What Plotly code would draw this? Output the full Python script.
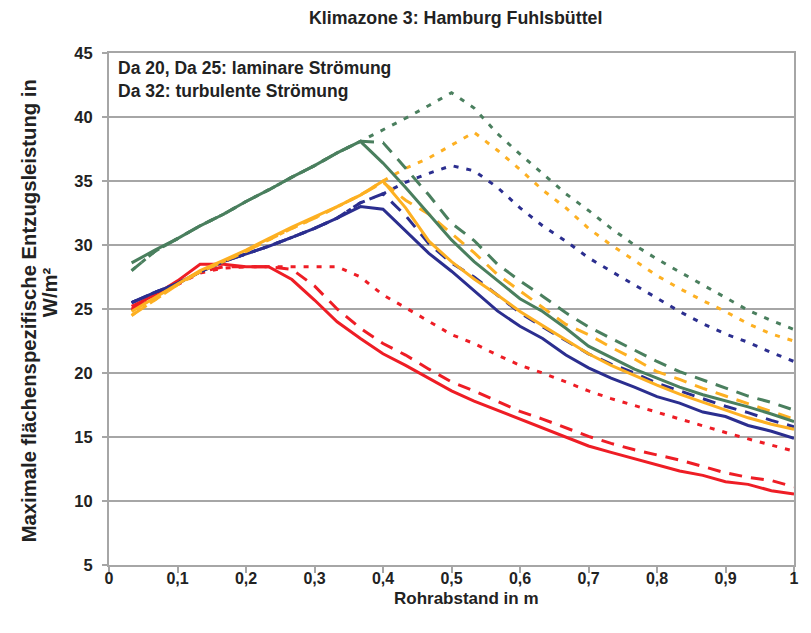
import plotly.graph_objects as go

# Rohrabstand in m
rohrabstand = [0.033, 0.067, 0.1, 0.133, 0.167, 0.2, 0.233, 0.267, 0.3, 0.333,
               0.367, 0.4, 0.433, 0.467, 0.5, 0.533, 0.567, 0.6, 0.633, 0.667,
               0.7, 0.733, 0.767, 0.8, 0.833, 0.867, 0.9, 0.933, 0.967, 1.0]

# Maximale flächenspezifische Entzugsleistung in W/m² (Da 20 = solid, Da 25 = dashed, Da 32 = dotted)
rot_da20 = [25.2, 26.1, 27.2, 28.5, 28.5, 28.3, 28.3, 27.3, 25.7, 24.0,
            22.7, 21.5, 20.6, 19.6, 18.6, 17.8, 17.1, 16.4, 15.7, 15.0,
            14.3, 13.8, 13.3, 12.8, 12.35, 12.0, 11.5, 11.3, 10.8, 10.55]
rot_da25 = [25.0, 26.0, 27.0, 27.9, 28.3, 28.3, 28.3, 28.1, 26.8, 25.0,
            23.5, 22.3, 21.4, 20.3, 19.3, 18.6, 17.8, 17.0, 16.4, 15.7,
            15.05, 14.5, 14.0, 13.6, 13.2, 12.7, 12.2, 11.85, 11.6, 11.1]
rot_da32 = [24.9, 25.9, 26.9, 27.8, 28.2, 28.3, 28.3, 28.3, 28.3, 28.3,
            27.5, 26.1, 25.1, 24.0, 23.0, 22.3, 21.4, 20.6, 20.0, 19.3,
            18.6, 18.0, 17.45, 16.95, 16.4, 15.85, 15.35, 14.85, 14.35, 13.9]

blau_da20 = [25.5, 26.3, 27.0, 27.9, 28.7, 29.3, 29.9, 30.6, 31.3, 32.1,
             33.0, 32.8, 31.1, 29.35, 27.95, 26.4, 24.85, 23.65, 22.7, 21.4,
             20.4, 19.6, 18.9, 18.15, 17.65, 16.95, 16.6, 15.9, 15.45, 14.9]
blau_da25 = [25.5, 26.3, 27.0, 27.9, 28.7, 29.3, 29.9, 30.6, 31.3, 32.1,
             33.3, 34.0, 32.3, 30.1, 28.6, 27.5, 26.1, 24.7, 23.6, 22.5,
             21.5, 20.7, 20.0, 19.2, 18.6, 18.0, 17.4, 16.9, 16.3, 15.8]
blau_da32 = [25.5, 26.3, 27.0, 27.9, 28.7, 29.3, 29.9, 30.6, 31.3, 32.1,
             33.3, 34.0, 34.9, 35.6, 36.2, 35.8, 34.5, 32.9, 31.5, 30.3,
             29.0, 27.95, 26.85, 25.85, 24.8, 23.85, 23.05, 22.4, 21.6, 20.9]

orange_da20 = [24.8, 25.9, 27.0, 28.0, 28.8, 29.6, 30.5, 31.4, 32.2, 33.0,
               33.9, 35.0, 32.9, 30.3, 28.7, 27.35, 26.1, 24.8, 23.7, 22.55,
               21.5, 20.6, 19.8, 19.05, 18.35, 17.7, 17.1, 16.5, 16.0, 15.6]
orange_da25 = [24.5, 25.7, 26.9, 27.9, 28.7, 29.5, 30.4, 31.3, 32.1, 33.0,
               33.9, 34.9, 33.5, 32.4, 30.9, 29.4, 27.7, 26.4, 25.1, 23.8,
               23.0, 22.0, 21.1, 20.1, 19.5, 18.8, 18.2, 17.6, 17.0, 16.4]
orange_da32 = [24.5, 25.7, 26.9, 27.9, 28.7, 29.5, 30.4, 31.3, 32.1, 33.0,
               33.9, 35.0, 36.0, 36.8, 37.8, 38.8, 37.4, 35.9, 34.3, 32.9,
               31.3, 30.0, 28.8, 27.6, 26.6, 25.65, 24.8, 23.85, 23.05, 22.5]

gruen_da20 = [28.6, 29.6, 30.5, 31.5, 32.4, 33.4, 34.3, 35.3, 36.2, 37.2,
              38.1, 36.4, 34.5, 32.4, 30.4, 28.7, 27.2, 25.8, 24.8, 23.5,
              22.1, 21.2, 20.3, 19.6, 18.9, 18.3, 17.85, 17.35, 16.8, 16.2]
gruen_da25 = [28.0, 29.5, 30.5, 31.5, 32.4, 33.4, 34.3, 35.3, 36.2, 37.2,
              38.1, 38.0, 36.0, 33.9, 31.7, 30.35, 28.5, 27.2, 26.0, 24.7,
              23.6, 22.7, 21.8, 20.9, 20.1, 19.45, 18.8, 18.2, 17.7, 17.1]
gruen_da32 = [28.0, 29.5, 30.5, 31.5, 32.4, 33.4, 34.3, 35.3, 36.2, 37.2,
              38.1, 39.0, 39.9, 40.9, 41.9, 40.7, 38.7, 37.1, 35.6, 34.0,
              32.7, 31.3, 30.0, 28.9, 27.9, 26.9, 25.9, 24.9, 24.1, 23.4]

ROT = "#EE1D25"
BLAU = "#2B2E8F"
ORANGE = "#FDB022"
GRUEN = "#4A7F5E"

DASH_DA20 = "solid"
DASH_DA25 = "13px,9px"
DASH_DA32 = "5px,8px"

series = [
    ("Rot Da 20", rot_da20, ROT, DASH_DA20),
    ("Rot Da 25", rot_da25, ROT, DASH_DA25),
    ("Rot Da 32", rot_da32, ROT, DASH_DA32),
    ("Blau Da 20", blau_da20, BLAU, DASH_DA20),
    ("Blau Da 25", blau_da25, BLAU, DASH_DA25),
    ("Blau Da 32", blau_da32, BLAU, DASH_DA32),
    ("Orange Da 20", orange_da20, ORANGE, DASH_DA20),
    ("Orange Da 25", orange_da25, ORANGE, DASH_DA25),
    ("Orange Da 32", orange_da32, ORANGE, DASH_DA32),
    ("Grün Da 20", gruen_da20, GRUEN, DASH_DA20),
    ("Grün Da 25", gruen_da25, GRUEN, DASH_DA25),
    ("Grün Da 32", gruen_da32, GRUEN, DASH_DA32),
]

fig = go.Figure()
for name, values, color, dash in series:
    fig.add_trace(go.Scatter(
        x=rohrabstand, y=values, name=name, mode="lines",
        line=dict(color=color, width=3, dash=dash),
        showlegend=False,
    ))

FONT = "Liberation Sans, Arial, sans-serif"
TEXT = "#222222"
GRID = "#A6A6A6"

# plot area spans 109..797 px horizontally and 53..565 px vertically
L, R, T, B = 109, 797, 53, 565


def px_x(px):
    return (px - L) / (R - L)


def px_y(py):
    return (B - py) / (B - T)


def label(text, x, y, size, xanchor="center", angle=0):
    return dict(text=f"<b>{text}</b>", xref="paper", yref="paper", x=x, y=y,
                xanchor=xanchor, yanchor="middle", textangle=angle, showarrow=False,
                font=dict(family=FONT, size=size, color=TEXT))


fig.update_layout(
    width=811, height=633,
    margin=dict(l=L, r=811 - R, t=T, b=633 - B),
    paper_bgcolor="white", plot_bgcolor="white",
    separators=", ",
    font=dict(family=FONT, color=TEXT),
    xaxis=dict(
        range=[0, 1], dtick=0.1, tick0=0,
        showgrid=False, zeroline=False,
        showline=True, linecolor=GRID, linewidth=2, mirror=True,
        ticks="outside", ticklen=6, tickwidth=1.5, tickcolor=GRID,
        tickfont=dict(family=FONT, size=16, color=TEXT, weight="bold"),
        ticklabelstandoff=-8,
    ),
    yaxis=dict(
        range=[5, 45], dtick=5, tick0=5,
        showgrid=True, gridcolor=GRID, gridwidth=2, zeroline=False,
        showline=True, linecolor=GRID, linewidth=2, mirror=True,
        ticks="outside", ticklen=5, tickwidth=1.5, tickcolor=GRID,
        tickfont=dict(family=FONT, size=16.5, color=TEXT, weight="bold"),
        ticklabelstandoff=6,
    ),
    annotations=[
        label("Klimazone 3: Hamburg Fuhlsbüttel", px_x(457), px_y(18), 17.8),
        label("Rohrabstand in m", px_x(468), px_y(598), 17),
        label("Maximale flächenspezifische Entzugsleistung in", px_x(29), px_y(311), 20.3,
              angle=-90),
        label("W/m²", px_x(50), px_y(292), 20.3, angle=-90),
        label("Da 20, Da 25: laminare Strömung", px_x(116), px_y(68), 17.5, xanchor="left"),
        label("Da 32: turbulente Strömung", px_x(116), px_y(91), 17.5, xanchor="left"),
    ],
)

fig.write_html("out.html")
